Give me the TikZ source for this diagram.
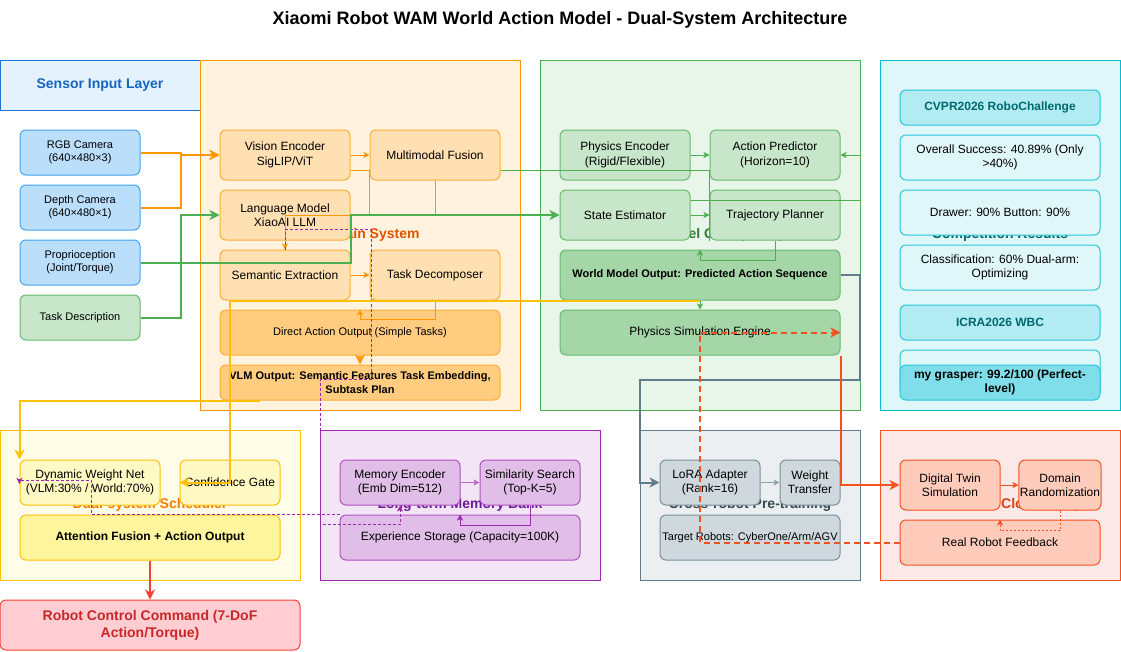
\documentclass[tikz,border=0pt]{standalone}
\usepackage{fontspec}
\setmainfont{Liberation Sans}
\usetikzlibrary{arrows.meta,calc}
\definecolor{sensorbg}{RGB}{227,242,253}
\definecolor{sensorline}{RGB}{30,115,216}
\definecolor{sensortxt}{RGB}{21,101,192}
\definecolor{sensorfill}{RGB}{187,222,251}
\definecolor{sensorbox}{RGB}{66,165,245}
\definecolor{vlmbg}{RGB}{255,243,224}
\definecolor{vlmline}{RGB}{255,152,0}
\definecolor{vlmtxt}{RGB}{230,81,0}
\definecolor{vlmfill}{RGB}{255,224,178}
\definecolor{vlmdeep}{RGB}{255,204,128}
\definecolor{wmbg}{RGB}{232,245,233}
\definecolor{wmline}{RGB}{76,175,80}
\definecolor{wmtxt}{RGB}{46,125,50}
\definecolor{wmfill}{RGB}{200,230,201}
\definecolor{wmdeep}{RGB}{165,214,167}
\definecolor{compbg}{RGB}{224,247,250}
\definecolor{compline}{RGB}{0,188,212}
\definecolor{comptxt}{RGB}{0,105,110}
\definecolor{comphead}{RGB}{178,235,242}
\definecolor{compdeep}{RGB}{128,222,234}
\definecolor{schedbg}{RGB}{255,253,231}
\definecolor{schedline}{RGB}{255,193,7}
\definecolor{schedtxt}{RGB}{245,124,0}
\definecolor{schedfill}{RGB}{255,249,196}
\definecolor{scheddeep}{RGB}{255,245,157}
\definecolor{membg}{RGB}{243,229,245}
\definecolor{memline}{RGB}{156,39,176}
\definecolor{memtxt}{RGB}{106,27,154}
\definecolor{memfill}{RGB}{225,190,231}
\definecolor{memarrow}{RGB}{186,104,200}
\definecolor{crossbg}{RGB}{236,239,241}
\definecolor{crossline}{RGB}{96,125,139}
\definecolor{crosstxt}{RGB}{55,71,79}
\definecolor{crossfill}{RGB}{207,216,220}
\definecolor{crossarrow}{RGB}{144,164,174}
\definecolor{loopbg}{RGB}{251,233,231}
\definecolor{loopline}{RGB}{244,81,30}
\definecolor{looptxt}{RGB}{216,67,21}
\definecolor{loopfill}{RGB}{255,204,188}
\definecolor{cmdfill}{RGB}{255,205,210}
\definecolor{cmdline}{RGB}{244,67,54}
\definecolor{cmdtxt}{RGB}{198,40,40}
\newcommand{\fontmid}{\fontsize{12}{14.4}\selectfont}
\newcommand{\fontsml}{\fontsize{11}{13.2}\selectfont}
\newcommand{\fontbig}{\fontsize{14}{16.8}\selectfont\bfseries}
\newcommand{\fonttitle}{\fontsize{18}{21.6}\selectfont\bfseries}

\begin{document}
\begin{tikzpicture}[x=1pt,y=-1pt,
  sz/.style 2 args={minimum width=#1pt,minimum height=#2pt},
  layer/.style={draw,line width=1pt,inner sep=0pt,font=\fontbig},
  box/.style={draw,rounded corners=6pt,line width=1pt,inner sep=1pt,align=center,font=\fontmid},
  sensor/.style={box,fill=sensorfill,draw=sensorbox,font=\fontsml},
  vlmbox/.style={box,fill=vlmfill,draw=vlmline!80},
  wmbox/.style={box,fill=wmfill,draw=wmline!85},
  compbox/.style={box,fill=compbg,draw=compline!85},
  comphd/.style={box,fill=comphead,draw=compline!85,font=\fontmid\bfseries,text=comptxt},
  schedbox/.style={box,fill=schedfill,draw=schedline},
  membox/.style={box,fill=memfill,draw=memline!80},
  crossbox/.style={box,fill=crossfill,draw=crossline!85},
  loopbox/.style={box,fill=loopfill,draw=loopline},
  flow/.style={line width=2pt,-{Stealth[length=10pt,width=10pt,inset=3pt]}},
  link/.style={line width=1pt,-{Stealth[length=6pt,width=6pt,inset=1.5pt]}},
  pdash/.style={link,draw=memline,dash pattern=on 3pt off 2pt}]
\fill[white] (0,0) rectangle (1121,651);
\useasboundingbox (0,0) rectangle (1121,651);
\node[font=\fonttitle] (title) at (560,20) {Xiaomi Robot WAM World Action Model - Dual-System Architecture};

% layers
\node[layer,fill=sensorbg,draw=sensorline,text=sensortxt,sz={200}{50}] (sensors) at (100,85) {Sensor Input Layer};
\node[layer,fill=vlmbg,draw=vlmline,text=vlmtxt,sz={320}{350}] (vlm) at (360,235) {VLM Main System};
\node[layer,fill=wmbg,draw=wmline,text=wmtxt,sz={320}{350}] (wm) at (700,235) {World Model Core (WAM)};
\node[layer,fill=compbg,draw=compline,text=comptxt,sz={240}{350}] (comp) at (1000,235) {Competition Results};
\node[layer,fill=schedbg,draw=schedline,text=schedtxt,sz={300}{150}] (sched) at (150,505) {Dual-system Scheduler};
\node[layer,fill=membg,draw=memline,text=memtxt,sz={280}{150}] (mem) at (460,505) {Long-term Memory Bank};
\node[layer,fill=crossbg,draw=crossline,text=crosstxt,sz={220}{150}] (cross) at (750,505) {Cross-robot Pre-training};
\node[layer,fill=loopbg,draw=loopline,sz={240}{150}] (loop) at (1000,505) {};
\node[font=\fontbig,text=looptxt,anchor=west,inner sep=0pt] (looplbl) at (1001,505) {Closed-loop};

% sensors
\node[sensor,sz={120}{45}] (rgb) at (80,152.5) {RGB Camera\\(640×480×3)};
\node[sensor,sz={120}{45}] (depth) at (80,207.5) {Depth Camera\\(640×480×1)};
\node[sensor,sz={120}{45}] (prop) at (80,262.5) {Proprioception\\(Joint/Torque)};
\node[sensor,fill=wmfill,draw=wmline!85,sz={120}{45}] (task) at (80,317.5) {Task Description};

% VLM main system
\node[vlmbox,sz={130}{50}] (visenc) at (285,155) {Vision Encoder\\SigLIP/ViT};
\node[vlmbox,sz={130}{50}] (fusion) at (435,155) {Multimodal Fusion};
\node[vlmbox,sz={130}{50}] (lang) at (285,215) {Language Model\\XiaoAI LLM};
\node[vlmbox,sz={130}{50}] (sem) at (285,275) {Semantic Extraction};
\node[vlmbox,sz={130}{50}] (decomp) at (435,275) {Task Decomposer};
\node[vlmbox,fill=vlmdeep,font=\fontsml,sz={280}{45}] (direct) at (360,332.5) {Direct Action Output (Simple Tasks)};
\node[vlmbox,fill=vlmdeep,font=\fontsml\bfseries,sz={280}{35}] (vlmout) at (360,382.5) {VLM Output: Semantic Features Task Embedding,\\Subtask Plan};

% world model
\node[wmbox,sz={130}{50}] (phys) at (625,155) {Physics Encoder\\(Rigid/Flexible)};
\node[wmbox,sz={130}{50}] (act) at (775,155) {Action Predictor\\(Horizon=10)};
\node[wmbox,sz={130}{50}] (state) at (625,215) {State Estimator};
\node[wmbox,sz={130}{50}] (traj) at (775,215) {Trajectory Planner};
\node[wmbox,fill=wmdeep,font=\fontsml\bfseries,sz={280}{50}] (wmout) at (700,275) {World Model Output: Predicted Action Sequence};
\node[wmbox,fill=wmdeep,sz={280}{45}] (sim) at (700,332.5) {Physics Simulation Engine};

% competition results
\node[comphd,sz={200}{35}] (cvpr) at (1000,107.5) {CVPR2026 RoboChallenge};
\node[compbox,sz={200}{45}] (overall) at (1000,157.5) {Overall Success: 40.89\% (Only\\>40\%)};
\node[compbox,sz={200}{45}] (drawer) at (1000,212.5) {Drawer: 90\% Button: 90\%};
\node[compbox,sz={200}{45}] (classif) at (1000,267.5) {Classification: 60\% Dual-arm:\\Optimizing};
\node[comphd,sz={200}{35}] (icra) at (1000,322.5) {ICRA2026 WBC};
\node[compbox,sz={200}{45}] (wbcback) at (1000,372.5) {};
\node[comphd,fill=compdeep,text=black,sz={200}{35}] (grasper) at (1000,382.5) {my grasper: 99.2/100 (Perfect-\\level)};

% scheduler
\node[schedbox,sz={140}{45}] (dyn) at (90,482.5) {Dynamic Weight Net\\(VLM:30\% / World:70\%)};
\node[schedbox,sz={100}{45}] (gate) at (230,482.5) {Confidence Gate};
\node[schedbox,fill=scheddeep,font=\fontmid\bfseries,sz={260}{45}] (attfuse) at (150,537.5) {Attention Fusion + Action Output};
\node[box,fill=cmdfill,draw=cmdline,text=cmdtxt,font=\fontbig,sz={300}{50}] (robot) at (150,625) {Robot Control Command (7-DoF\\Action/Torque)};

% memory bank
\node[membox,sz={120}{45}] (memenc) at (400,482.5) {Memory Encoder\\(Emb Dim=512)};
\node[membox,sz={100}{45}] (simsearch) at (530,482.5) {Similarity Search\\(Top-K=5)};
\node[membox,sz={240}{45}] (storage) at (460,537.5) {Experience Storage (Capacity=100K)};

% cross-robot
\node[crossbox,sz={100}{45}] (lora) at (710,482.5) {LoRA Adapter\\(Rank=16)};
\node[crossbox,sz={60}{45}] (wtrans) at (810,482.5) {Weight\\Transfer};
\node[crossbox,font=\fontsml,sz={180}{45}] (targets) at (750,537.5) {Target Robots: CyberOne/Arm/AGV};

% closed loop
\node[loopbox,sz={100}{50}] (twin) at (950,485) {Digital Twin\\Simulation};
\node[loopbox,sz={80}{50}] (domain) at (1060,485) {Domain\\Randomization};
\node[loopbox,sz={200}{45}] (feedback) at (1000,542.5) {Real Robot Feedback};

% connectors
\draw[flow,draw=vlmline] (rgb.east) -- ++(40,0) |- (visenc.west);
\draw[flow,draw=vlmline] (depth.east) -- ++(40,0) |- (visenc.west);
\draw[link,draw=vlmline] (visenc.east) -- (fusion.west);
\draw[line width=1pt,draw=vlmline] ([yshift=-15pt]visenc.east) -| (fusion.west |- lang.east);
\draw[link,draw=vlmline] (fusion.south) -- (fusion.south |- lang.east) -| (sem.north);
\draw[link,draw=vlmline] (sem.east) -- (decomp.west);
\draw[link,draw=vlmline] (decomp.south) -- ++(0,19) -| (direct.north);
\draw[flow,draw=vlmline] (direct.south) -- (vlmout.north);
\draw[line width=1pt,draw=wmline] ([yshift=-15pt]fusion.east) -| (traj.south west);
\draw[pdash] (sem.north) -- ++(0,-20) -- ++(86,0) -- ++(0,150) -- ++(-51,0) -- ++(0,145) -| (memenc.south);
\draw[flow,draw=wmline] (task.east) -- ++(40,0) |- (lang.west);
\draw[flow,draw=wmline] (prop.east) -| (lang.east) -- (state.west);
\draw[link,draw=wmline] (phys.east) -- (act.west);
\draw[link,draw=wmline] (state.east) -- (traj.west);
\draw[link,draw=wmline] ([yshift=15pt]state.east) -- ++(170,0) |- (act.east);
\draw[link,draw=wmline] (traj.south) -- ++(0,20) -| (wmout.north);
\draw[link,draw=wmline] (wmout.south) -- (sim.north);
\coordinate (ybend) at ($(sem.south west)+(10,0)$);
\draw[flow,draw=schedline] (wmout.south) -- (ybend) |- (gate.west);
\draw[flow,draw=schedline] ([xshift=40pt]vlmout.south west) -| (dyn.north west);
\coordinate (pbend) at (91,480);
\draw[pdash] (storage.north west) -| (pbend) -- (dyn.west |- pbend) -- ++(0,4);
\draw[link,draw=memarrow,line width=1.5pt] (memenc.east) -- (simsearch.west);
\draw[link,draw=memline] (simsearch.south) -- ++(0,20) -| (storage.north);
\coordinate (gbend) at (860,380);
\draw[flow,draw=crossline] (wmout.east) -| (gbend) -- (gbend -| cross.west) |- (lora.west);
\draw[link,draw=crossarrow] (lora.east) -- (wtrans.west);
\draw[flow,draw=loopline] (sim.south east) |- (twin.west);
\draw[flow,draw=loopline,dash pattern=on 6pt off 4pt] (feedback.west) -| (sim.center) -- (sim.east);
\draw[link,draw=loopline] (twin.east) -- (domain.west);
\draw[link,draw=loopline,dash pattern=on 2pt off 2pt] (domain.south) -- ++(0,20) -| (feedback.north);
\draw[flow,draw=cmdline,line width=2.5pt] (attfuse.south) -- (robot.north);
\end{tikzpicture}
\end{document}
